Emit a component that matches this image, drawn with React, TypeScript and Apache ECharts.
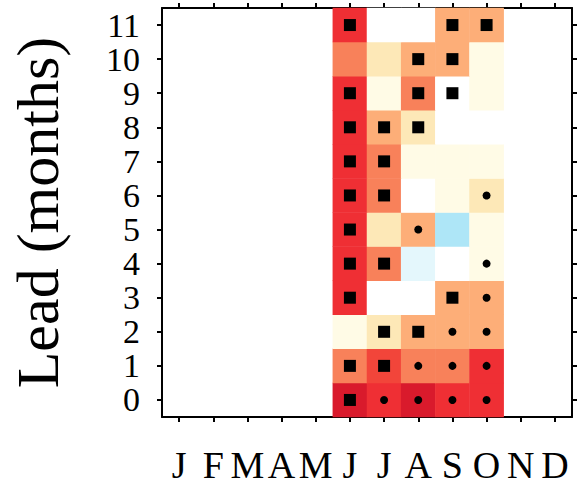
import React, { useEffect, useRef } from "react";
import * as echarts from "echarts";

const MONTHS = ["J", "F", "M", "A", "M", "J", "J", "A", "S", "O", "N", "D"];
const LEADS = ["0", "1", "2", "3", "4", "5", "6", "7", "8", "9", "10", "11"];

// skill per lead (rows, lead 0..11) and month (Jan..Dec); null = no data
const N = null;
const SKILL: (number | null)[][] = [
  [N, N, N, N, N, 0.65, 0.55, 0.65, 0.55, 0.55, N, N],
  [N, N, N, N, N, 0.45, 0.52, 0.45, 0.45, 0.55, N, N],
  [N, N, N, N, N, 0.15, 0.25, 0.35, 0.35, 0.35, N, N],
  [N, N, N, N, N, 0.55, 0.0, 0.0, 0.35, 0.35, N, N],
  [N, N, N, N, N, 0.55, 0.45, -0.15, 0.05, 0.12, N, N],
  [N, N, N, N, N, 0.55, 0.25, 0.35, -0.25, 0.15, N, N],
  [N, N, N, N, N, 0.55, 0.45, 0.0, 0.15, 0.25, N, N],
  [N, N, N, N, N, 0.55, 0.45, 0.15, 0.15, 0.15, N, N],
  [N, N, N, N, N, 0.55, 0.35, 0.25, 0.0, 0.0, N, N],
  [N, N, N, N, N, 0.55, 0.15, 0.45, 0.05, 0.15, N, N],
  [N, N, N, N, N, 0.45, 0.25, 0.35, 0.35, 0.15, N, N],
  [N, N, N, N, N, 0.55, 0.0, 0.0, 0.35, 0.35, N, N],
];

// significance marks per lead: 's' = square, 'd' = dot, '.' = none
const MARKS: string[] = [
  ".....sdddd..",
  ".....ssddd..",
  "......ssdd..",
  ".....s..sd..",
  ".....ss..d..",
  ".....s.d....",
  ".....ss..d..",
  ".....ss.....",
  ".....sss....",
  ".....s.ss...",
  ".......ss...",
  ".....s..ss..",
];

const PIECES = [
  { min: -0.3, max: -0.2, color: "#aee6f7" },
  { min: -0.2, max: -0.1, color: "#e4f7fc" },
  { min: -0.1, max: 0.1, color: "#ffffff" },
  { min: 0.1, max: 0.2, color: "#fffbe6" },
  { min: 0.2, max: 0.3, color: "#fde8b7" },
  { min: 0.3, max: 0.4, color: "#fdae78" },
  { min: 0.4, max: 0.5, color: "#f8815a" },
  { min: 0.5, max: 0.52, color: "#f2453a" },
  { min: 0.52, max: 0.6, color: "#ef2f34" },
  { min: 0.6, max: 0.7, color: "#d91a2c" },
];

const FONT = "Liberation Serif";

export default function App() {
  const ref = useRef<HTMLDivElement>(null);
  useEffect(() => {
    document.body.style.margin = "0";
    const chart = echarts.init(ref.current!, null, { renderer: "svg" });
    const heat: any[] = [];
    const squares: any[] = [];
    const dots: any[] = [];
    SKILL.forEach((row, li) => {
      row.forEach((v, mi) => {
        if (v !== null) heat.push([mi, li, v]);
      });
    });
    MARKS.forEach((row, li) => {
      row.split("").forEach((c, mi) => {
        if (c === "s") squares.push([mi, li]);
        if (c === "d") dots.push([mi, li]);
      });
    });
    const axisLine = { show: true, lineStyle: { color: "#000", width: 2 } };
    const axisTick = {
      show: true,
      inside: false,
      length: 5,
      alignWithLabel: true,
      lineStyle: { color: "#000", width: 2 },
    };
    chart.setOption({
      animation: false,
      backgroundColor: "#fff",
      grid: {
        left: 162,
        right: 5,
        top: 8,
        bottom: 74,
        containLabel: false,
        outerBoundsMode: "none",
      },
      visualMap: {
        type: "piecewise",
        show: false,
        dimension: 2,
        seriesIndex: 0,
        pieces: PIECES,
      },
      xAxis: [
        {
          type: "category",
          data: MONTHS,
          position: "bottom",
          axisLine,
          axisTick,
          splitLine: { show: false },
          axisLabel: {
            interval: 0,
            margin: 29,
            color: "#000",
            fontFamily: FONT,
            fontSize: 38,
          },
        },
        {
          type: "category",
          data: MONTHS,
          position: "top",
          axisLine,
          axisTick,
          axisLabel: { show: false },
        },
      ],
      yAxis: [
        {
          type: "category",
          data: LEADS,
          position: "left",
          axisLine,
          axisTick,
          splitLine: { show: false },
          axisLabel: {
            interval: 0,
            margin: 22,
            color: "#000",
            fontFamily: FONT,
            fontSize: 34,
            lineHeight: 30,
          },
          name: "Lead (months)",
          nameLocation: "middle",
          nameGap: 94,
          nameTextStyle: { color: "#000", fontFamily: FONT, fontSize: 60 },
        },
        {
          type: "category",
          data: LEADS,
          position: "right",
          axisLine,
          axisTick,
          axisLabel: { show: false },
        },
      ],
      series: [
        {
          type: "heatmap",
          data: heat,
          itemStyle: { borderWidth: 0 },
          z: 1,
        },
        {
          type: "scatter",
          data: squares,
          symbol: "rect",
          symbolSize: 12,
          itemStyle: { color: "#000", opacity: 1 },
          z: 3,
        },
        {
          type: "scatter",
          data: dots,
          symbol: "circle",
          symbolSize: 8,
          itemStyle: { color: "#000", opacity: 1 },
          z: 3,
        },
      ],
    });
    return () => chart.dispose();
  }, []);
  return (
    <div
      ref={ref}
      style={{ position: "absolute", left: 0, top: 0, width: 577, height: 491 }}
    />
  );
}
